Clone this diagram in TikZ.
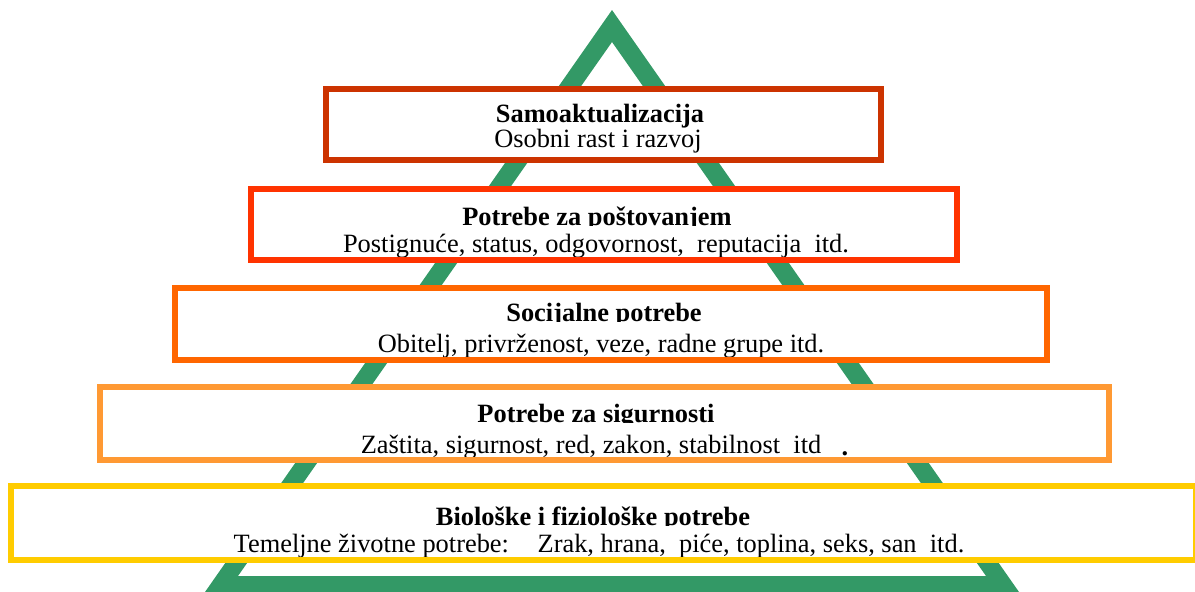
\documentclass[tikz,border=0pt]{standalone}
\usepackage{fontspec}
\setmainfont{Liberation Serif}
\definecolor{tri}{HTML}{339966}
\definecolor{cA}{HTML}{CC3300}
\definecolor{cB}{HTML}{FF3300}
\definecolor{cC}{HTML}{FF6600}
\definecolor{cD}{HTML}{FF9933}
\definecolor{cE}{HTML}{FFCC00}
\tikzset{
  ttl/.style={font=\fontsize{26.4}{26}\selectfont\bfseries, anchor=base, inner sep=0pt},
  sub/.style={font=\fontsize{26.4}{26}\selectfont, anchor=base, inner sep=0pt},
  frame/.style={draw=#1, line width=6pt},
}
\begin{document}
\begin{tikzpicture}[x=1pt,y=-1pt]
\useasboundingbox (0,0) rectangle (1195,592);
% pyramid outline
\fill[tri,even odd rule] (612,10) -- (205,592) -- (1019,592) -- cycle
                         (612,42) -- (238,576) -- (986,576) -- cycle;
% box 1
\fill[white] (326,89) rectangle (881,160);
\node[ttl] (t1) at (600,122) {Samoaktualizacija};
\node[sub] (s1) at (598,147) {Osobni rast i razvoj};
\draw[frame=cA] (326,89) rectangle (881,160);
% box 2
\fill[white] (251,189) rectangle (957,260);
\node[ttl] (t2) at (597,225) {Potrebe za poštovanjem};
\fill[white] (254,225.5) rectangle (954,257);
\node[sub] (s2) at (596,252) {Postignuće, status, odgovornost,~ reputacija~ itd.};
\draw[frame=cB] (251,189) rectangle (957,260);
% box 3
\fill[white] (175,288) rectangle (1047,360);
\node[ttl] (t3) at (604,321) {Socijalne potrebe};
\fill[white] (178,321.5) rectangle (1044,357);
\node[sub] (s3) at (601,352) {Obitelj, privrženost, veze, radne grupe itd.};
\draw[frame=cC] (175,288) rectangle (1047,360);
% box 4
\fill[white] (100,387) rectangle (1109,460);
\node[ttl] (t4) at (596,422) {Potrebe za sigurnosti};
\fill[white] (103,422.5) rectangle (1106,457);
\node[sub] (s4) at (591,453) {Zaštita, sigurnost, red, zakon, stabilnost~ itd};
\node[ttl] (d4) at (845,455) {.};
\draw[frame=cD] (100,387) rectangle (1109,460);
% box 5
\fill[white] (11,486) rectangle (1196,560);
\node[ttl] (t5) at (593,525) {Biološke i fiziološke potrebe};
\fill[white] (14,525.5) rectangle (1193,557);
\node[sub] (s5) at (599,552) {Temeljne životne potrebe:~~~ Zrak, hrana,~ piće, toplina, seks, san~ itd.};
\draw[frame=cE] (11,486) rectangle (1196,560);
\end{tikzpicture}
\end{document}
